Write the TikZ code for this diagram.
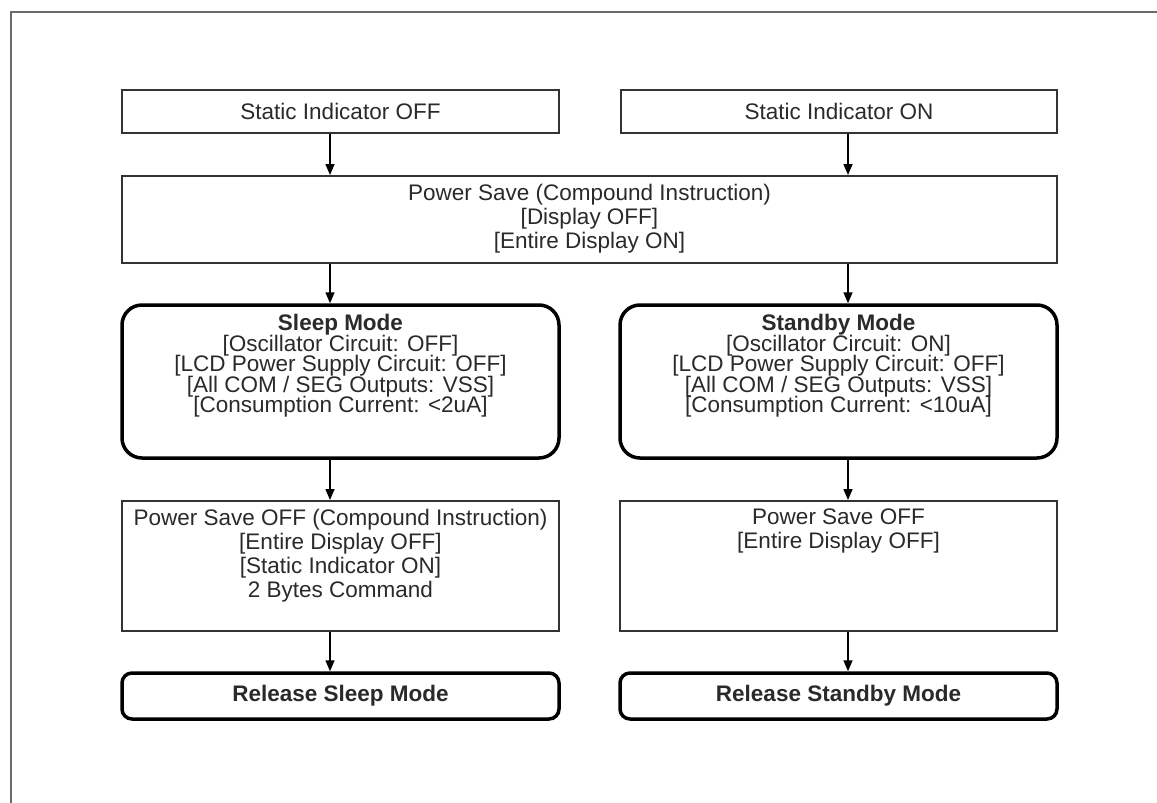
\documentclass[tikz,border=0pt]{standalone}
\usepackage{fontspec}
\setmainfont{Liberation Sans}
\usetikzlibrary{arrows.meta}
\definecolor{inkgray}{HTML}{2A2A2A}
\definecolor{edgegray}{HTML}{333333}
\definecolor{framegray}{HTML}{6A6A6A}
% body text: fixed baseline spacing regardless of glyph heights
\newcommand\boxfont{\fontsize{22.5}{24}\selectfont\lineskiplimit=-30pt\relax}
\newcommand\tightfont{\fontsize{22.5}{20.5}\selectfont\lineskiplimit=-30pt\relax}
\begin{document}
\begin{tikzpicture}[x=1pt,y=-1pt,
  txt/.style={font=\boxfont, text=inkgray, align=center, inner sep=0pt},
  tighttxt/.style={txt, font=\tightfont},
  plainbox/.style={draw=edgegray, line width=2pt, fill=white, inner sep=0pt, txt},
  modebox/.style={draw=black, line width=3.5pt, rounded corners=20pt, fill=white, inner sep=0pt, txt},
  endbox/.style={draw=black, line width=3.5pt, rounded corners=10pt, fill=white, inner sep=0pt, txt},
  flow/.style={draw=black, line width=1.5pt, -{Triangle[length=11pt,width=9pt]}}
]
\useasboundingbox (0,0) rectangle (1157,803);
% page frame
\coordinate (fbl) at (11,803);
\coordinate (ftl) at (11,12);
\coordinate (ftr) at (1157,12);
\draw[framegray, line width=2.5pt] (fbl) -- (ftl) -- (ftr);

% row 1
\node[plainbox, minimum width=437pt, minimum height=43pt] (soff) at (340.5,111.5) {Static Indicator OFF};
\node[plainbox, minimum width=436pt, minimum height=43pt] (son) at (839,111.5) {Static Indicator ON};

% row 2
\node[plainbox, minimum width=935pt, minimum height=87pt] (ps) at (589.5,219.5) {};
\node[txt] (pstext) at ([yshift=1pt]ps.center) {Power Save (Compound Instruction)\\ {[Display OFF]}\\ {[Entire Display ON]}};

% row 3
\node[modebox, minimum width=437pt, minimum height=153pt] (sleep) at (340.5,381.5) {};
\node[tighttxt, anchor=north] (sleeptext) at ([yshift=-11pt]sleep.north) {\textbf{Sleep Mode}\\ {[Oscillator Circuit: OFF]}\\ {[LCD Power Supply Circuit: OFF]}\\ {[All COM / SEG Outputs: VSS]}\\ {[Consumption Current: <2uA]}};
\node[modebox, minimum width=437pt, minimum height=153pt] (stby) at (838.5,381.5) {};
\node[tighttxt, anchor=north] (stbytext) at ([yshift=-11pt]stby.north) {\textbf{Standby Mode}\\ {[Oscillator Circuit: ON]}\\ {[LCD Power Supply Circuit: OFF]}\\ {[All COM / SEG Outputs: VSS]}\\ {[Consumption Current: <10uA]}};

% row 4
\node[plainbox, minimum width=437pt, minimum height=130pt] (psoffl) at (340.5,566) {};
\node[txt, anchor=north] (psofflt) at ([yshift=-9pt]psoffl.north) {Power Save OFF (Compound Instruction)\\ {[Entire Display OFF]}\\ {[Static Indicator ON]}\\ 2 Bytes Command};
\node[plainbox, minimum width=437pt, minimum height=130pt] (psoffr) at (838.5,566) {};
\node[txt, anchor=north] (psoffrt) at ([yshift=-9pt]psoffr.north) {Power Save OFF\\ {[Entire Display OFF]}};

% row 5
\node[endbox, minimum width=437pt, minimum height=46pt] (rell) at (340.5,696) {\raisebox{4pt}{\textbf{Release Sleep Mode}}};
\node[endbox, minimum width=437pt, minimum height=46pt] (relr) at (838.5,696) {\raisebox{4pt}{\textbf{Release Standby Mode}}};

% connectors (left column runs 10.5pt left of centre, right column about 9pt right)
\draw[flow] ([xshift=-10.5pt]soff.south) -- ([xshift=-10.5pt]soff.south |- ps.north);
\draw[flow] ([xshift=9pt]son.south) -- ([xshift=9pt]son.south |- ps.north);
\draw[flow] ([xshift=-10.5pt]sleep.north |- ps.south) -- ([xshift=-10.5pt]sleep.north);
\draw[flow] ([xshift=9.5pt]stby.north |- ps.south) -- ([xshift=9.5pt]stby.north);
\draw[flow] ([xshift=-10.5pt]sleep.south) -- ([xshift=-10.5pt]psoffl.north);
\draw[flow] ([xshift=9.5pt]stby.south) -- ([xshift=9.5pt]psoffr.north);
\draw[flow] ([xshift=-10.5pt]psoffl.south) -- ([xshift=-10.5pt]rell.north);
\draw[flow] ([xshift=9.5pt]psoffr.south) -- ([xshift=9.5pt]relr.north);
\end{tikzpicture}
\end{document}
